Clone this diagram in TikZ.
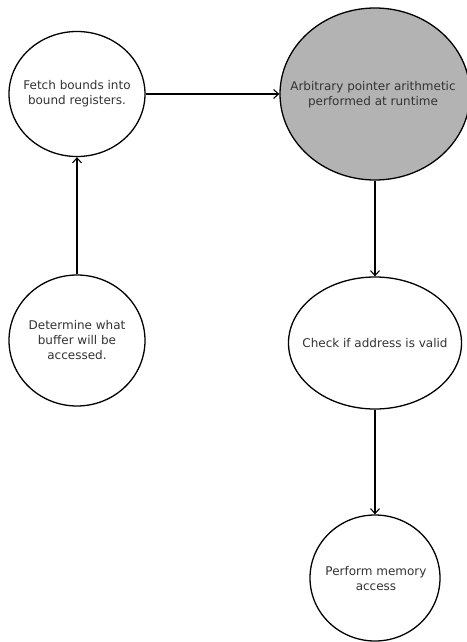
\documentclass[tikz,border=0pt]{standalone}
\usepackage{fontspec}
\setmainfont{DejaVu Sans}
\usetikzlibrary{shapes.geometric,arrows.meta}
\definecolor{txt}{HTML}{333333}
\definecolor{busy}{HTML}{B3B3B3}
\tikzset{
  x=1pt, y=-1pt,
  state/.style={draw=black, line width=1.3pt, ellipse, inner sep=0pt, fill=white},
  caption/.style={text=txt, align=center, font=\fontsize{12}{15}\selectfont, inner sep=0pt},
  flow/.style={line width=1.3pt, -{Straight Barb[length=5pt,width=9pt,line width=1.1pt]}}
}
\begin{document}
\begin{tikzpicture}
\useasboundingbox (0,0) rectangle (466,642);
% states
\node[state, minimum width=136pt, minimum height=125pt] (fetch) at (77,94) {};
\node[state, fill=busy, minimum width=190pt, minimum height=172pt] (arith) at (375,94) {};
\node[state, minimum width=136pt, minimum height=131pt] (determine) at (77,340.5) {};
\node[state, minimum width=173pt, minimum height=132pt] (check) at (375,343) {};
\node[state, minimum width=130pt, minimum height=126pt] (perform) at (375,578) {};
% captions
\node[caption] (fetchT) at (fetch.center) {Fetch bounds into\\bound registers.};
\node[caption] (arithT) at (373,94.5) {Arbitrary pointer arithmetic\\performed at runtime};
\node[caption] (determineT) at (determine.center) {Determine what\\buffer will be\\accessed.};
\node[caption] (checkT) at (check.center) {Check if address is valid};
\node[caption] (performT) at (376,578.5) {Perform memory\\access};
% transitions
\draw[flow] (fetch.east) -- (arith.west);
\draw[flow] (determine.north) -- (fetch.south);
\draw[flow] (arith.south) -- (check.north);
\draw[flow] (check.south) -- (perform.north);
\end{tikzpicture}
\end{document}
